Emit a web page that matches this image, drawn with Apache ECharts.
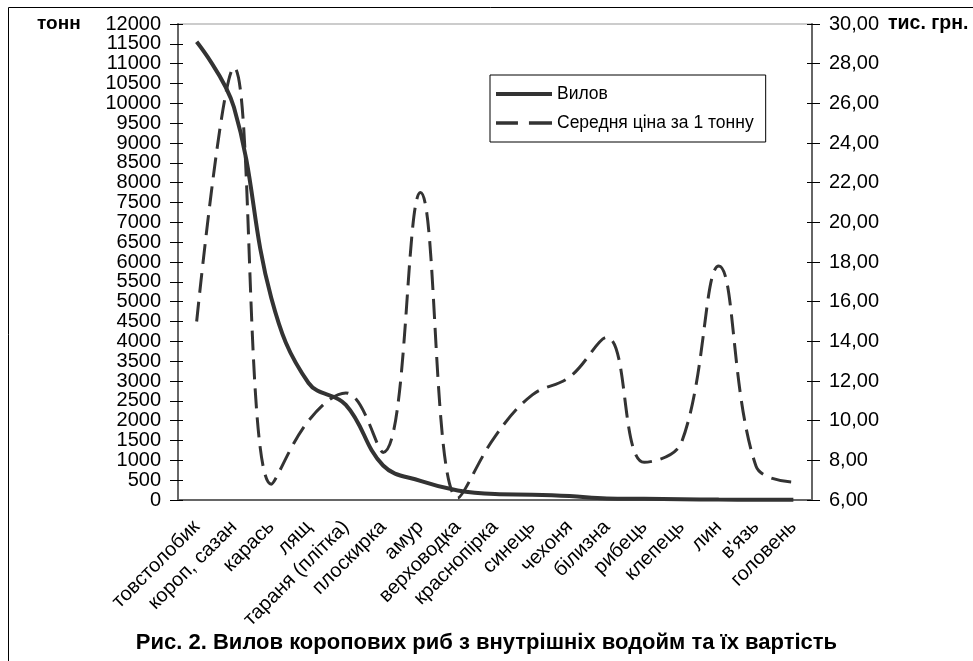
<!DOCTYPE html>
<html>
<head>
<meta charset="utf-8">
<script src="https://cdn.jsdelivr.net/npm/echarts@6/dist/echarts.min.js"></script>
<style>
  html, body { margin: 0; padding: 0; background: #fff; }
  #chart { width: 973px; height: 661px; }
</style>
</head>
<body>
<div id="chart"></div>
<script>
  // fish species
  var categories = ['товстолобик', 'короп, сазан', 'карась', 'лящ', 'тараня (плітка)', 'плоскирка',
    'амур', 'верховодка', 'краснопірка', 'синець', 'чехоня', 'білизна', 'рибець', 'клепець',
    'лин', 'в\'язь', 'головень']
  // catch, tonnes
  var catchTonnes = [11550, 9900, 5100, 2950, 2400, 870, 480, 240, 150, 135, 100, 40, 30, 20, 10, 5, 5]
  // average price per tonne, thousand UAH
  var pricePerTonne = [15.0, 27.8, 6.8, 10.0, 11.4, 8.4, 21.5, 6.1, 9.2, 11.3, 12.2, 14.2, 7.9, 8.9, 17.8, 7.7, 6.9]

  var seriesNames = ['Вилов', 'Середня ціна за 1 тонну']
  var leftUnit = 'тонн'
  var rightUnit = 'тис. грн.'
  var caption = 'Рис. 2. Вилов коропових риб з внутрішніх водойм та їх вартість'

  var font = 'Liberation Sans, Arial, sans-serif'
  var ink = '#333'

  var chart = echarts.init(document.getElementById('chart'))

  function yAxis(position, min, max, interval, withLabels, inside) {
    return {
      type: 'value',
      position: position,
      min: min,
      max: max,
      interval: interval,
      splitLine: { show: false },
      axisLine: { show: withLabels, lineStyle: { color: '#666', width: 2 } },
      axisTick: { show: true, inside: inside, length: inside ? 5 : 8, lineStyle: { color: '#000', width: 1 } },
      axisLabel: {
        show: withLabels,
        margin: 17,
        color: '#000',
        fontFamily: font,
        fontSize: 20,
        formatter: position === 'right'
          ? function (v) { return v.toFixed(2).replace('.', ',') }
          : function (v) { return String(v) }
      }
    }
  }

  chart.setOption({
    animation: false,
    textStyle: { fontFamily: font },
    grid: {
      left: 178,
      right: 161,
      top: 24,
      bottom: 161,
      show: true,
      borderColor: '#999',
      borderWidth: 1
    },
    legend: {
      // drawn icons: a solid bar and two long dashes
      data: [
        { name: seriesNames[0], icon: 'path://M0,0h56v4h-56z' },
        { name: seriesNames[1], icon: 'path://M0,0h20v3h-20z M30,0h21v3h-21z' }
      ],
      orient: 'vertical',
      left: 490,
      top: 75,
      padding: [10, 12, 10, 6],
      itemWidth: 56,
      itemHeight: 14,
      itemGap: 11,
      borderColor: '#000',
      borderWidth: 1,
      backgroundColor: '#fff',
      textStyle: { color: '#000', fontSize: 17.5, fontFamily: font }
    },
    xAxis: [
      {
        type: 'category',
        data: categories,
        boundaryGap: true,
        axisLine: { lineStyle: { color: '#666', width: 2 } },
        axisTick: { length: 7, lineStyle: { color: '#000' } },
        axisLabel: {
          interval: 0,
          rotate: 45,
          margin: 24,
          color: '#000',
          fontFamily: font,
          fontSize: 20
        }
      },
      {
        type: 'category',
        data: categories,
        position: 'bottom',
        boundaryGap: true,
        axisLine: { show: false },
        axisTick: { inside: true, length: 7, lineStyle: { color: '#000' } },
        axisLabel: { show: false }
      }
    ],
    yAxis: [
      yAxis('left', 0, 12000, 500, true, false),
      yAxis('right', 6, 30, 2, true, false),
      yAxis('left', 0, 12000, 500, false, true),
      yAxis('right', 6, 30, 2, false, true)
    ],
    series: [
      {
        name: seriesNames[0],
        type: 'line',
        yAxisIndex: 0,
        data: catchTonnes,
        smooth: 0.4,
        symbol: 'none',
        lineStyle: { color: ink, width: 4 },
        itemStyle: { color: ink }
      },
      {
        name: seriesNames[1],
        type: 'line',
        yAxisIndex: 1,
        data: pricePerTonne,
        smooth: 0.4,
        symbol: 'none',
        lineStyle: { color: ink, width: 3, type: [20, 9] },
        itemStyle: { color: ink }
      }
    ],
    graphic: [
      { type: 'line', shape: { x1: 8.5, y1: 7.5, x2: 973, y2: 7.5 }, style: { stroke: '#000', lineWidth: 1 } },
      { type: 'line', shape: { x1: 8.5, y1: 7.5, x2: 8.5, y2: 661 }, style: { stroke: '#000', lineWidth: 1 } },
      { type: 'text', left: 37, top: 14, style: { text: leftUnit, font: 'bold 19px ' + font, fill: '#000' } },
      { type: 'text', left: 888, top: 14, style: { text: rightUnit, font: 'bold 19.5px ' + font, fill: '#000' } },
      { type: 'text', left: 'center', top: 632, style: { text: caption, font: 'bold 22px ' + font, fill: '#000' } }
    ]
  })
</script>
</body>
</html>
